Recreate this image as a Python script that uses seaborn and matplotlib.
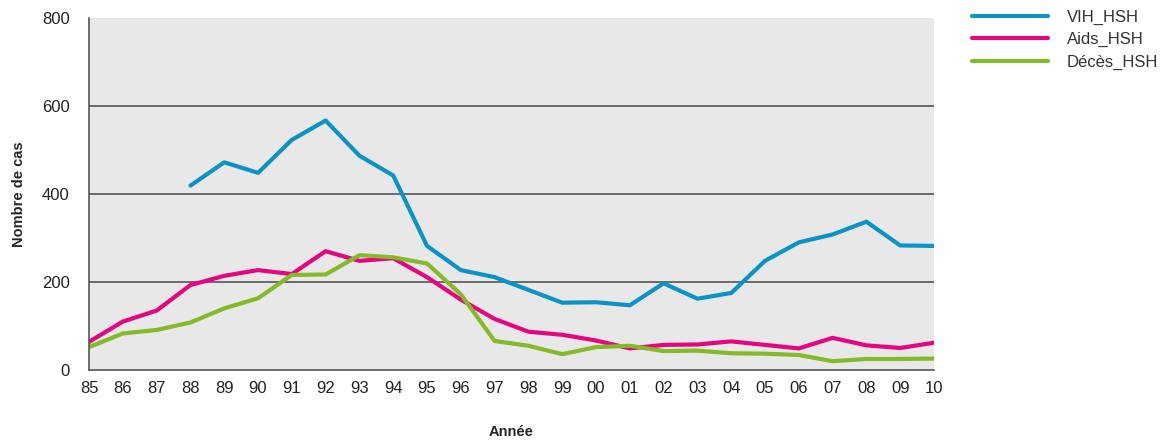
import numpy as np
import pandas as pd
import seaborn as sns
import matplotlib.pyplot as plt

years = ["85", "86", "87", "88", "89", "90", "91", "92", "93", "94", "95", "96", "97",
         "98", "99", "00", "01", "02", "03", "04", "05", "06", "07", "08", "09", "10"]
vih_hsh = [np.nan, np.nan, np.nan, 419, 472, 448, 523, 567, 487, 442, 282, 227, 211,
           182, 153, 154, 147, 197, 162, 175, 248, 290, 308, 337, 283, 282]
aids_hsh = [64, 110, 135, 193, 214, 227, 218, 270, 248, 254, 211, 160, 116,
            87, 80, 67, 49, 57, 58, 65, 57, 49, 73, 56, 50, 62]
deces_hsh = [52, 83, 91, 108, 140, 163, 216, 217, 261, 256, 242, 172, 66,
             55, 36, 52, 55, 43, 44, 38, 37, 34, 20, 25, 25, 26]

series = ["VIH_HSH", "Aids_HSH", "Décès_HSH"]
colors = ["#0a93c4", "#e5057f", "#84b92a"]

df = pd.DataFrame({"pos": range(len(years)), "VIH_HSH": vih_hsh,
                   "Aids_HSH": aids_hsh, "Décès_HSH": deces_hsh})
long = df.melt(id_vars="pos", var_name="serie", value_name="cas").dropna()

sns.set_style("white")
plt.rcParams["font.family"] = ["Liberation Sans", "DejaVu Sans"]

fig = plt.figure(figsize=(11.64, 4.44), dpi=100)
ax = fig.add_axes([0.0765, 0.1667, 0.7259, 0.7928])
ax.set_facecolor("#e8e8e8")

sns.lineplot(data=long, x="pos", y="cas", hue="serie", hue_order=series,
             palette=colors, linewidth=3, ax=ax, legend=False)

ax.set_xlim(0, len(years) - 1)
ax.set_ylim(0, 800)
ax.set_xticks(range(len(years)))
ax.set_xticklabels(years)
ax.set_yticks([0, 200, 400, 600, 800])
for v in [200, 400, 600]:
    ax.axhline(v, color="#555555", linewidth=1.2, zorder=0.5)

for s in ["top", "right"]:
    ax.spines[s].set_visible(False)
for s in ["left", "bottom"]:
    ax.spines[s].set_color("#555555")
    ax.spines[s].set_linewidth(1.2)

ax.tick_params(axis="x", direction="in", length=7, color="#333333", labelsize=12,
               labelcolor="#222222", pad=8)
ax.tick_params(axis="y", direction="out", length=4, color="#555555", labelsize=12,
               labelcolor="#222222", pad=10)

ax.set_xlabel("Année", fontsize=10.5, fontweight="bold")
ax.set_ylabel("Nombre de cas", fontsize=10.5, fontweight="bold")
ax.xaxis.set_label_coords(0.5, -0.155)
ax.yaxis.set_label_coords(-0.075, 0.5)

handles = [plt.Line2D([], [], color=c, linewidth=3) for c in colors]
fig.legend(handles, series, loc="upper left", bbox_to_anchor=(0.822, 1.012),
           frameon=False, fontsize=12, handlelength=4.6, handletextpad=1.1,
           labelspacing=0.45, labelcolor="#333333")

fig.savefig("out.png", dpi=100)
